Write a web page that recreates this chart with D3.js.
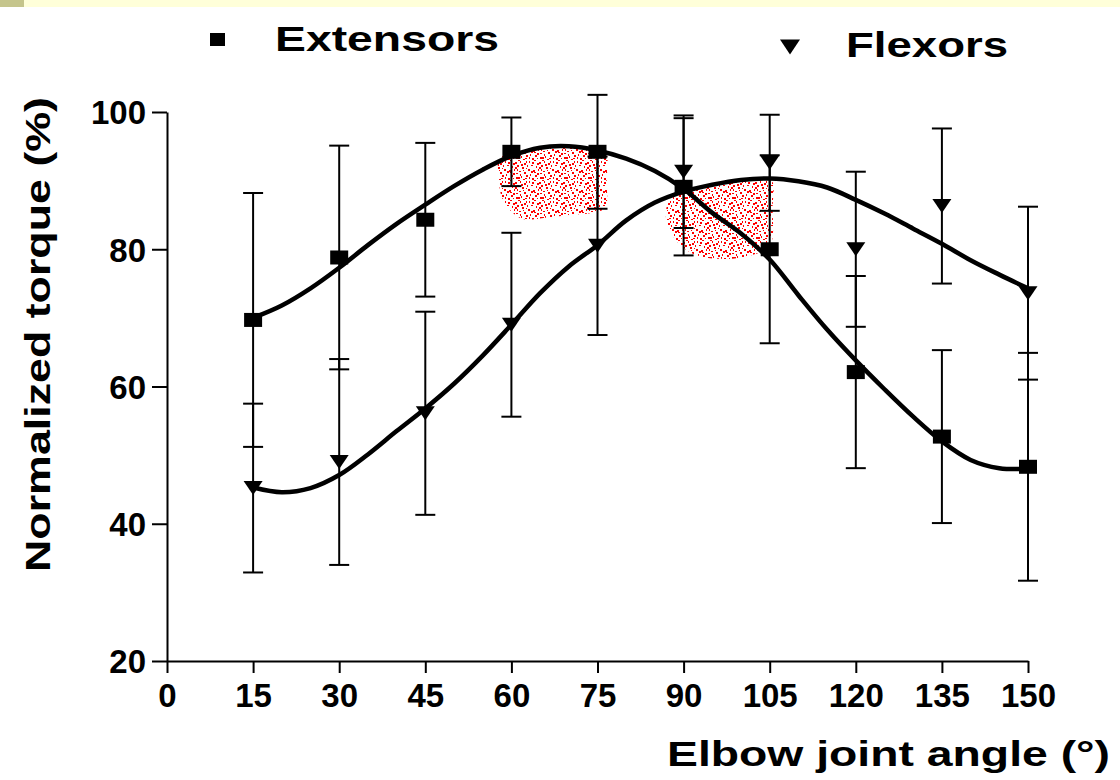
<!DOCTYPE html>
<html>
<head>
<meta charset="utf-8">
<script src="https://cdn.jsdelivr.net/npm/d3@7"></script>
<style>
  body { margin: 0; background: #fff; }
  svg text { font-family: "Liberation Sans", Arial, sans-serif; font-weight: bold; fill: #000; }
</style>
</head>
<body>
<div id="app"></div>
<script>
// measured angles and torque (mean, SD)
const angles = [15, 30, 45, 60, 75, 90, 105, 120, 135, 150];
const extMean = [69.7, 78.8, 84.3, 94.2, 94.2, 89.1, 80.0, 62.1, 52.7, 48.3];
const extSD = [18.5, 16.3, 11.2, 5.0, 8.3, 10.0, 13.7, 14.0, 12.6, 16.6];
const flexMean = [45.2, 49.0, 56.1, 69.0, 80.5, 91.3, 92.6, 80.0, 86.3, 73.6];
const flexSD = [12.3, 15.0, 14.8, 13.4, 13.0, 8.2, 7.0, 11.3, 11.3, 12.6];

// fitted curves
const fitAngles = [15, 20, 25, 30, 35, 40, 45, 50, 55, 60, 65, 70, 75, 80, 85, 90, 95, 100, 105, 110, 115, 120, 125, 130, 135, 140, 145, 150];
const extFit = [70.0, 71.8, 74.3, 77.3, 80.6, 83.7, 86.5, 89.2, 91.6, 93.6, 94.8, 95.0, 94.4, 93.2, 91.4, 88.8, 85.3, 82.3, 78.5, 73.3, 68.3, 63.8, 59.6, 55.6, 52.0, 49.3, 48.1, 48.0];
const flexFit = [45.3, 44.6, 45.2, 47.1, 50.1, 53.5, 56.8, 60.4, 64.5, 69.0, 73.6, 77.5, 80.6, 84.2, 86.8, 88.4, 89.4, 90.1, 90.3, 89.9, 89.0, 87.2, 85.2, 83.0, 80.8, 78.4, 76.3, 74.3];

// red stippled zones [angle, torque]
const zoneA = [[58, 93.3], [62, 94.3], [66, 95.0], [70, 95.2], [74, 94.9], [76.4, 94.2], [76.6, 90], [76.3, 86], [74, 85.3], [70, 85.0], [66, 84.6], [62, 84.4], [60, 85.5], [58.5, 87.2], [57.8, 90]];
const zoneB = [[90, 88.6], [95, 89.4], [100, 90.0], [105.2, 90.2], [105.5, 86], [105.3, 81], [104, 79.8], [100, 78.8], [96, 78.6], [92, 79.2], [89, 81], [87.2, 83.5], [87, 86], [88.5, 88]];

// stipple dots in one 24x20 pattern tile
const stippleDots = [[1, 1], [6, 0], [11, 2], [16, 1], [20, 3], [3, 5], [8, 6], [13, 5], [18, 7], [22, 8],
  [0, 9], [5, 10], [10, 9], [15, 11], [20, 12], [2, 14], [7, 15], [12, 13], [17, 16], [22, 15],
  [4, 18], [9, 18], [14, 17], [19, 19], [13, 9], [6, 12], [17, 4], [1, 17],
  [9, 3], [14, 0], [22, 1], [4, 2], [11, 7], [19, 10], [3, 11], [9, 13], [16, 14], [21, 18], [12, 17], [23, 5]];

const xTicks = [0, 15, 30, 45, 60, 75, 90, 105, 120, 135, 150];
const yTicks = [20, 40, 60, 80, 100];

const width = 1120;
const height = 780;

const svg = d3.select("#app").append("svg").attr("width", width).attr("height", height);

// slide header strip
svg.append("rect").attr("x", 0).attr("y", 0).attr("width", width).attr("height", 7).attr("fill", "#ffffd9");
svg.append("rect").attr("x", 0).attr("y", 0).attr("width", 24).attr("height", 7).attr("fill", "#c5c58c");

const x = d3.scaleLinear().domain([0, 150]).range([167, 1028]);
const y = d3.scaleLinear().domain([20, 100]).range([661, 112]);

// stipple pattern for the red zones
const pat = svg.append("defs").append("pattern").attr("id", "stip")
  .attr("patternUnits", "userSpaceOnUse").attr("width", 24).attr("height", 20);
pat.selectAll("rect").data(stippleDots).join("rect")
  .attr("x", d => d[0]).attr("y", d => d[1])
  .attr("width", (d, i) => (i % 3 === 0 ? 1 : 2)).attr("height", (d, i) => (i % 4 === 1 ? 1 : 2))
  .attr("fill", "#ff0000");

const zoneLine = d3.line().x(d => x(d[0])).y(d => y(d[1])).curve(d3.curveCatmullRomClosed);
svg.selectAll(".zone").data([zoneA, zoneB]).join("path")
  .attr("class", "zone")
  .attr("d", zoneLine)
  .attr("fill", "url(#stip)");

// AXES
const yAxis = svg.append("g").attr("transform", `translate(${x(0)},0)`)
  .call(d3.axisLeft(y).tickValues(yTicks).tickSize(15).tickSizeOuter(0).tickPadding(6));
const xAxis = svg.append("g").attr("transform", `translate(0,${y(20)})`)
  .call(d3.axisBottom(x).tickValues(xTicks).tickSize(12).tickSizeOuter(0).tickPadding(11));
[xAxis, yAxis].forEach(a => {
  a.selectAll("path, line").attr("stroke", "#000").attr("stroke-width", 2);
  a.selectAll("text").style("font-size", "33px").attr("fill", "#000");
});
yAxis.selectAll("text").attr("dy", "0.36em");

// FITTED CURVES
const fitLine = d3.line().x((d, i) => x(fitAngles[i])).y(d => y(d)).curve(d3.curveCatmullRom);
svg.selectAll(".fit").data([extFit, flexFit]).join("path")
  .attr("class", "fit")
  .attr("d", fitLine)
  .attr("fill", "none")
  .attr("stroke", "#000")
  .attr("stroke-width", 4.5);

// ERROR BARS
const bars = [];
angles.forEach((a, i) => {
  bars.push({ a, lo: extMean[i] - extSD[i], hi: extMean[i] + extSD[i] });
  bars.push({ a, lo: flexMean[i] - flexSD[i], hi: flexMean[i] + flexSD[i] });
});
const eb = svg.append("g").attr("stroke", "#000").attr("stroke-width", 2);
eb.selectAll(".stem").data(bars).join("line")
  .attr("x1", d => x(d.a)).attr("x2", d => x(d.a))
  .attr("y1", d => y(d.lo)).attr("y2", d => y(d.hi));
eb.selectAll(".cap").data(bars.flatMap(d => [{ a: d.a, v: d.lo }, { a: d.a, v: d.hi }])).join("line")
  .attr("x1", d => x(d.a) - 10).attr("x2", d => x(d.a) + 10)
  .attr("y1", d => y(d.v)).attr("y2", d => y(d.v));

// MARKERS
svg.selectAll(".ext").data(angles).join("rect")
  .attr("x", (d, i) => x(d) - 9).attr("y", (d, i) => y(extMean[i]) - 7)
  .attr("width", 18).attr("height", 14).attr("fill", "#000");
const tri = (cx, cy, w, h) => `M${cx - w / 2},${cy - h / 2}L${cx + w / 2},${cy - h / 2}L${cx},${cy + h / 2}Z`;
svg.selectAll(".flex").data(angles).join("path")
  .attr("d", (d, i) => tri(x(d), y(flexMean[i]), 19, 14)).attr("fill", "#000");

// LEGEND
svg.append("rect").attr("x", 210).attr("y", 33).attr("width", 15).attr("height", 13).attr("fill", "#000");
svg.append("text").attr("x", 275).attr("y", 51).style("font-size", "35px")
  .attr("textLength", 224).attr("lengthAdjust", "spacingAndGlyphs").text("Extensors");
svg.append("path").attr("d", tri(790, 47, 20, 15)).attr("fill", "#000");
svg.append("text").attr("x", 846).attr("y", 57).style("font-size", "35px")
  .attr("textLength", 162).attr("lengthAdjust", "spacingAndGlyphs").text("Flexors");

// AXIS TITLES
svg.append("text").attr("x", 667).attr("y", 766).style("font-size", "35px")
  .attr("textLength", 443).attr("lengthAdjust", "spacingAndGlyphs").text("Elbow joint angle (°)");
svg.append("text").attr("transform", "translate(50,572) rotate(-90)").style("font-size", "35px")
  .attr("textLength", 475).attr("lengthAdjust", "spacingAndGlyphs").text("Normalized torque (%)");
</script>
</body>
</html>
